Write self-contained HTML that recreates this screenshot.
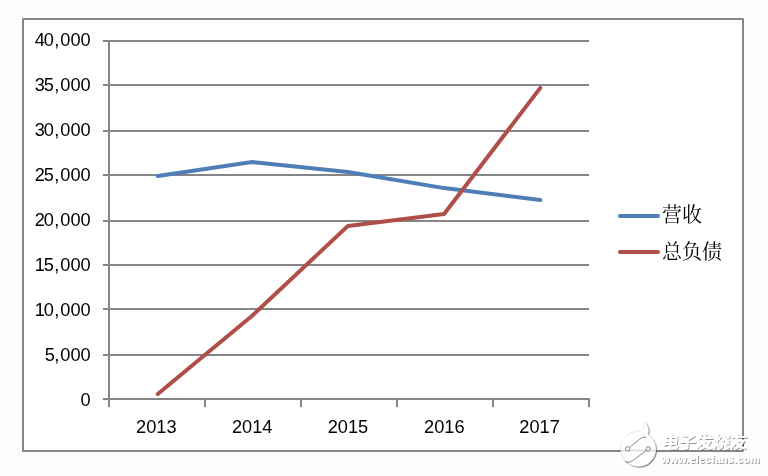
<!DOCTYPE html>
<html><head><meta charset="utf-8">
<style>
html,body{margin:0;padding:0;background:#fdfdfd;width:768px;height:476px;overflow:hidden}
svg{display:block;will-change:transform}
.ax{font-family:"Liberation Sans",sans-serif;font-size:18.2px;fill:#000}
.lg{font-family:"Liberation Serif","Noto Serif CJK SC",serif;font-size:20px;fill:#000}
.wm{font-family:"Liberation Sans","Noto Sans CJK SC",sans-serif;font-weight:bold;fill:#fff}
</style></head>
<body>
<svg width="768" height="476" viewBox="0 0 768 476">
<defs>
<filter id="sh" x="-20%" y="-20%" width="140%" height="140%">
<feGaussianBlur in="SourceAlpha" stdDeviation="0.5"/>
<feOffset dx="0.8" dy="0.9" result="b"/>
<feFlood flood-color="#000" flood-opacity="0.5"/>
<feComposite in2="b" operator="in"/>
<feMerge><feMergeNode/><feMergeNode in="SourceGraphic"/></feMerge>
</filter>
<filter id="sh2" x="-20%" y="-20%" width="140%" height="140%">
<feGaussianBlur in="SourceAlpha" stdDeviation="0.5"/>
<feOffset dx="0.8" dy="0.9" result="b"/>
<feFlood flood-color="#000" flood-opacity="0.4"/>
<feComposite in2="b" operator="in"/>
<feMerge><feMergeNode/><feMergeNode in="SourceGraphic"/></feMerge>
</filter>
</defs>
<rect x="23" y="19" width="720" height="432" fill="#fff" stroke="#868686" stroke-width="2" stroke-linejoin="round"/>
<g stroke="#868686" stroke-width="2" fill="none">
<path d="M103 41H589M103 85H589M103 131H589M103 175H589M103 221H589M103 265H589M103 309H589M103 355H589M103 399H590"/>
<path d="M109 40V407M205 399V407M301 399V407M397 399V407M493 399V407M589 399V407"/>
</g>
<g class="ax" text-anchor="end">
<text x="90.7" y="46"><tspan letter-spacing="-1.1">40</tspan><tspan dx="1.5">,</tspan><tspan dx="1">000</tspan></text>
<text x="90.7" y="91"><tspan letter-spacing="-1.1">35</tspan><tspan dx="1.5">,</tspan><tspan dx="1">000</tspan></text>
<text x="90.7" y="136"><tspan letter-spacing="-1.1">30</tspan><tspan dx="1.5">,</tspan><tspan dx="1">000</tspan></text>
<text x="90.7" y="181"><tspan letter-spacing="-1.1">25</tspan><tspan dx="1.5">,</tspan><tspan dx="1">000</tspan></text>
<text x="90.7" y="226"><tspan letter-spacing="-1.1">20</tspan><tspan dx="1.5">,</tspan><tspan dx="1">000</tspan></text>
<text x="90.7" y="271"><tspan letter-spacing="-1.1">15</tspan><tspan dx="1.5">,</tspan><tspan dx="1">000</tspan></text>
<text x="90.7" y="316"><tspan letter-spacing="-1.1">10</tspan><tspan dx="1.5">,</tspan><tspan dx="1">000</tspan></text>
<text x="90.7" y="361"><tspan>5</tspan><tspan dx="-0.6">,</tspan><tspan dx="1">000</tspan></text>
<text x="90.7" y="406">0</text>
</g>
<g class="ax" text-anchor="middle">
<text x="156.35" y="433">2013</text>
<text x="252.15" y="433">2014</text>
<text x="347.95" y="433">2015</text>
<text x="444.3" y="433">2016</text>
<text x="539.55" y="433">2017</text>
</g>
<g fill="none" stroke-width="4" stroke-linecap="round" stroke-linejoin="round">
<polyline stroke="#4f7eb6" points="157.8,176 252.15,162 347.95,172 444.1,188.1 540.3,200"/>
<polyline stroke="#b04e49" points="157.8,394 252.15,315.75 347.95,225.9 444.1,214 540.3,87.9"/>
<path stroke="#4f7eb6" d="M620 216H658"/>
<path stroke="#b04e49" d="M620 252H658"/>
</g>
<g class="lg">
<text x="662" y="222">营收</text>
<text x="662" y="258.5">总负债</text>
</g>
<!-- watermark -->
<g filter="url(#sh)">
<path d="M647.9,434.2A17.6,17.6 0 1,1 636.2,431.5C640.5,431 645,428 646.1,422.7C648.6,427 649.2,431 647.9,434.2Z" fill="#fff" stroke="#b0b0b0" stroke-opacity="0.6" stroke-width="0.5"/>
</g>
<path d="M621.2,450.5H655.6" stroke="#e2e2e2" stroke-width="2"/>
<g fill="none" stroke="#444" stroke-width="0.75" stroke-opacity="0.85">
<path d="M646.2,437.2C643.5,437.3 641.5,437.8 640,439L629.6,447.4"/>
<circle cx="627.7" cy="448.9" r="2.2" fill="#fff"/>
<circle cx="648.2" cy="448.9" r="2.2" fill="#fff"/>
<path d="M646.5,450.4L632.5,460.8C630,462.6 627,462.6 625,461.5"/>
</g>
<g filter="url(#sh2)">
<text class="wm" transform="translate(661.5,448.3) skewX(-6)" font-size="17">电子发烧友</text>
<text class="wm" x="661.3" y="462.6" font-size="10.5" letter-spacing="0.3">www.elecfans.com</text>
</g>
</svg>
</body></html>
